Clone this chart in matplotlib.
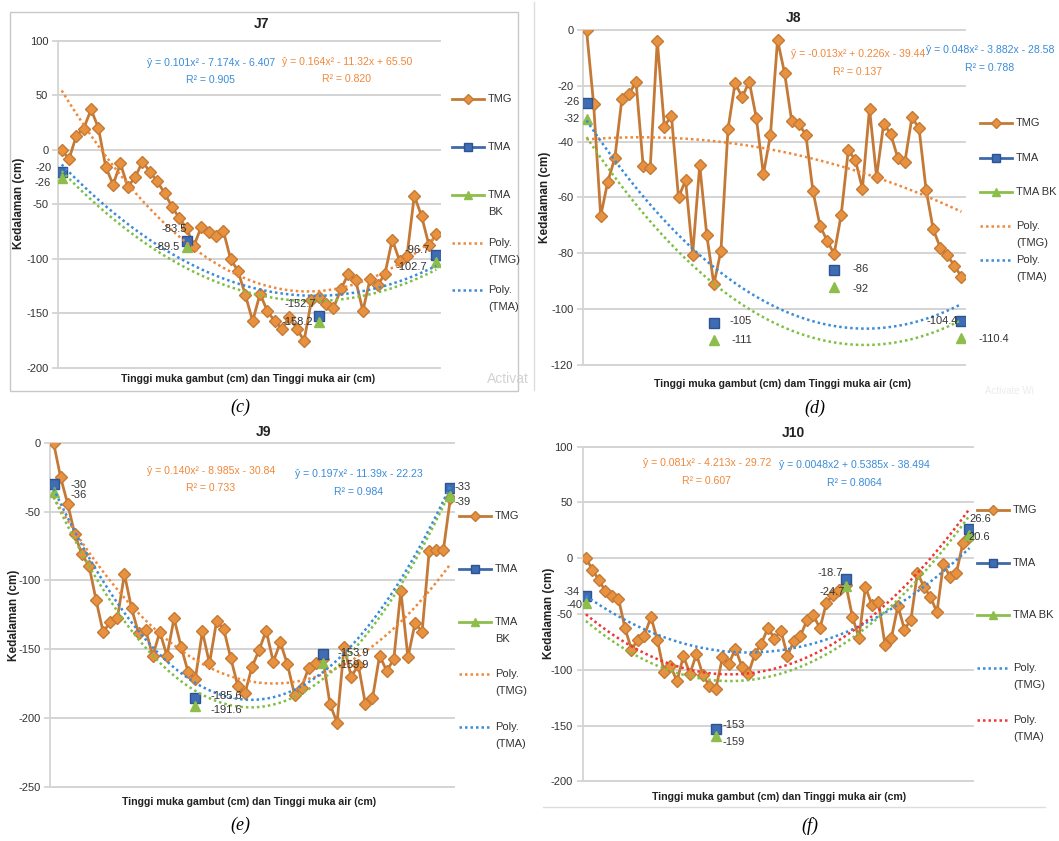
import numpy as np
import matplotlib
matplotlib.use("Agg")
import matplotlib.pyplot as plt
from matplotlib.lines import Line2D
from matplotlib.patches import Rectangle

plt.rcParams['font.family'] = ['Liberation Sans Narrow', 'Liberation Sans', 'DejaVu Sans']
plt.rcParams['axes.unicode_minus'] = False

# ---------------- data ----------------
# J7
j7_tmg = [0, -8.5, 13, 19.5, 37, 20, -15.6, -32, -12.5, -34, -25, -11, -20, -29,
          -39.5, -52, -62.5, -72, -88, -70.6, -75.5, -79, -74, -100.3, -111, -133,
          -157, -132, -147.8, -157, -164, -153, -164, -175, -138, -135, -141.6, -145,
          -128, -114, -119, -147.7, -118, -124, -114, -82.3, -101.8, -97.6, -42, -61,
          -87.5, -77]
j7_tma_x = [1, 18, 36, 52]
j7_tma = [-20, -83.5, -152.7, -96.7]
j7_tmabk = [-26, -89.5, -158.2, -102.7]
j7_fit_tmg = [0.164, -11.32, 65.50]
j7_fit_tma = [0.101, -7.174, -6.407]
j7_yticks = [100, 50, 0, -50, -100, -150, -200]

# J8
j8_tmg = [0, -26.5, -66.7, -54.4, -45.9, -24.7, -23, -18.6, -48.6, -49.6, -3.8, -34.6,
          -30.7, -60, -53.9, -80.5, -48.5, -73.6, -91.2, -79.1, -35.5, -19, -24.1,
          -18.5, -31.5, -51.7, -37.6, -3.6, -15.5, -32.6, -33.7, -37.5, -57.7, -70.2,
          -75.5, -80.3, -66.2, -43.1, -46.6, -56.9, -28.2, -52.6, -33.6, -37.3, -45.9,
          -47.3, -31.3, -35.2, -57.3, -71.4, -78, -80.8, -84.5, -88.5]
j8_tma_x = [1, 19, 36, 54]
j8_tma = [-26, -105, -86, -104.4]
j8_tmabk = [-32, -111, -92, -110.4]
j8_fit_tmg = [-0.013, 0.226, -39.44]
j8_fit_tma = [0.048, -3.882, -28.58]
j8_yticks = [0, -20, -40, -60, -80, -100, -120]

# J9
j9_tmg = [0, -25.2, -44.6, -66.6, -81.2, -89.4, -114.3, -137.8, -130.3, -127.7, -95.5,
          -120.2, -138.6, -136.1, -155, -137.4, -155, -127.7, -148.3, -166.9, -171.8,
          -137.1, -160.4, -129.8, -135.2, -156.5, -176.8, -182.2, -163, -150.7, -136.6,
          -159.2, -145.2, -161.1, -183.1, -178, -163.5, -160.4, -157, -189.9, -203.5,
          -148.3, -170.1, -161.6, -189.9, -185.8, -154.8, -165.7, -157.5, -107.6, -156,
          -131.3, -137.4, -78.7, -78, -78, -40]
j9_tma_x = [1, 21, 39, 57]
j9_tma = [-30, -185.6, -153.9, -33]
j9_tmabk = [-36, -191.6, -159.9, -39]
j9_fit_tmg = [0.140, -8.985, -30.84]
j9_fit_tma = [0.197, -11.39, -22.23]
j9_yticks = [0, -50, -100, -150, -200, -250]

# J10
j10_tmg = [0, -10.2, -19.7, -29.6, -33.5, -36.2, -62.4, -81.9, -72.9, -69.3, -52.6,
           -73.5, -101.9, -96.5, -110.2, -87.8, -103.4, -86, -104.9, -114.4, -116.8,
           -89, -94.4, -81, -97.4, -103.4, -85.5, -76.5, -62.4, -72, -65.1, -87.5,
           -74.1, -69.6, -55.6, -51.1, -63, -39.7, -33.2, -28.7, -24, -52.6, -71.4,
           -25.7, -42.1, -39.1, -77.4, -71.1, -42.7, -63.9, -55, -13.1, -25.7, -34.7,
           -48.4, -4.8, -16.7, -12.8, 13.7, 19]
j10_tma_x = [1, 21, 41, 60]
j10_tma = [-34, -153, -18.7, 26.6]
j10_tmabk = [-40, -159, -24.7, 20.6]
j10_fit_tmg = [0.081, -4.213, -29.72]
j10_yticks = [100, 50, 0, -50, -100, -150, -200]

# ---------------- styling ----------------
W, H = 1059, 841
GRID = '#d4d4d4'
TXT = '#333333'
TMG_LINE = '#C47A36'
TMG_FACE = '#E8923F'
TMA_FACE = '#3E6DB3'
TMA_EDGE = '#2D5390'
TMA_LEG = '#3F6AA8'
BK_COL = '#8DBE4C'
FIT_ORANGE = '#F0883A'
FIT_BLUE = '#3A8CD8'
FIT_GREEN = '#7FBF45'
FIT_RED = '#F03535'
DOT = (0, (1.0, 1.2))
EQ_FS = 7.6
LAB_FS = 8
LEG_FS = 8

fig = plt.figure(figsize=(W / 100, H / 100), dpi=100)
fig.patch.set_facecolor('white')


def fx(x):
    return x / W


def fy(y):
    return 1 - y / H


def ftext(x, y, s, **kw):
    fig.text(fx(x), fy(y), s, **kw)


def draw_panel(box, tmg, tma_x, tma, tmabk, ylim, yticks, fit_tmg, fit_tma,
               tmg_fit_col, tma_fit_col, tma_offs, bk_offs):
    l, t, r, b = box
    ax = fig.add_axes([fx(l), fy(b), (r - l) / W, (b - t) / H])
    n = len(tmg)
    x = np.arange(1, n + 1)
    ax.set_xlim(0.5, n + 0.5)
    ax.set_ylim(*ylim)
    ax.set_yticks(yticks)
    ax.set_xticks([])
    for s in ['top', 'right', 'bottom']:
        ax.spines[s].set_visible(False)
    ax.spines['left'].set_color(GRID)
    ax.spines['left'].set_linewidth(1.3)
    ax.tick_params(axis='y', length=4, width=1.3, color=GRID, labelsize=8,
                   labelcolor=TXT, pad=3)
    ax.yaxis.grid(True, color=GRID, lw=1.4)
    ax.set_axisbelow(True)
    for gl in ax.get_ygridlines():
        gl.set_clip_on(False)
    ax.patch.set_alpha(0)

    # measured series
    ax.plot(x, tmg, color=TMG_LINE, lw=2.0, marker='D', ms=6.5,
            mfc=TMG_FACE, mec=TMG_LINE, mew=1.0, zorder=3)
    ax.plot(tma_x, tma, ls='none', marker='s', ms=7.5, mfc=TMA_FACE,
            mec=TMA_EDGE, mew=1.0, zorder=4)
    ax.plot(tma_x, tmabk, ls='none', marker='^', ms=7, mfc=BK_COL,
            mec=BK_COL, zorder=5)

    # second-order polynomial trend lines
    xs = np.linspace(1, n, 300)
    if fit_tma is None:
        fit_tma = np.polyfit(tma_x, tma, 2)
    fit_bk = np.polyfit(tma_x, tmabk, 2)
    ax.plot(xs, np.polyval(fit_tmg, xs), color=tmg_fit_col, lw=1.8, ls=DOT, zorder=6)
    ax.plot(xs, np.polyval(fit_tma, xs), color=tma_fit_col, lw=1.8, ls=DOT, zorder=6)
    ax.plot(xs, np.polyval(fit_bk, xs), color=FIT_GREEN, lw=1.8, ls=DOT, zorder=6)

    # value labels on the water-level points (offsets in pixels)
    for vals, offs in ((tma, tma_offs), (tmabk, bk_offs)):
        for xi, v, (dx, dy, ha) in zip(tma_x, vals, offs):
            ax.annotate(f"{v:g}", (xi, v), xytext=(dx * 0.72, dy * 0.72),
                        textcoords='offset points', ha=ha, va='center',
                        fontsize=LAB_FS, color=TXT, zorder=8, annotation_clip=False)
    return ax


def draw_legend(x0, x1, xt, ys, entries):
    gap = 17
    for y, (kind, col, label) in zip(ys, entries):
        if kind == 'fit':
            fig.add_artist(Line2D([fx(x0), fx(x1)], [fy(y), fy(y)], color=col,
                                  lw=1.8, ls=DOT, transform=fig.transFigure))
        else:
            fig.add_artist(Line2D([fx(x0), fx(x1)], [fy(y), fy(y)], color=col,
                                  lw=2.0, transform=fig.transFigure))
            xm = (x0 + x1) / 2
            if kind == 'tmg':
                mk = dict(marker='D', ms=5.5, mfc=TMG_FACE, mec=TMG_LINE)
            elif kind == 'tma':
                mk = dict(marker='s', ms=6, mfc=TMA_FACE, mec=TMA_EDGE)
            else:
                mk = dict(marker='^', ms=5.5, mfc=BK_COL, mec=BK_COL)
            fig.add_artist(Line2D([fx(xm)], [fy(y)], ls='none',
                                  transform=fig.transFigure, **mk))
        for k, line in enumerate(label.split('\n')):
            ftext(xt, y + k * gap, line, fontsize=LEG_FS, color=TXT, va='center', ha='left')


# ---------------- J7 (c) ----------------
fig.add_artist(Rectangle((fx(10), fy(391)), (518 - 10) / W, (391 - 12) / H,
                         transform=fig.transFigure, fill=False, ec='#c8c8c8', lw=1.0))
draw_panel((58, 40.7, 440, 368), j7_tmg, j7_tma_x, j7_tma, j7_tmabk, (-200, 100),
           j7_yticks, j7_fit_tmg, j7_fit_tma, FIT_ORANGE, FIT_BLUE,
           [(-10, 3.5, 'right'), (0, 12, 'right'), (-3, 12.5, 'right'), (-6.5, 5, 'right')],
           [(-11, -5, 'right'), (-7, 0, 'right'), (-6, 0, 'right'), (-9.5, -5, 'right')])
ftext(262, 24, 'J7', fontsize=10, fontweight='bold', ha='center', va='center', color='#222222')
ftext(19, 203, 'Kedalaman (cm)', fontsize=8.5, fontweight='bold', rotation=90,
      ha='center', va='center', color='#222222')
ftext(248, 379, 'Tinggi muka gambut (cm) dan Tinggi muka air (cm)', fontsize=7.6,
      fontweight='bold', ha='center', va='center', color='#222222')
ftext(211, 63, 'ŷ = 0.101x² - 7.174x - 6.407', fontsize=EQ_FS, color=FIT_BLUE, ha='center', va='center')
ftext(211, 80, 'R² = 0.905', fontsize=EQ_FS, color=FIT_BLUE, ha='center', va='center')
ftext(347, 62, 'ŷ = 0.164x² - 11.32x + 65.50', fontsize=EQ_FS, color=FIT_ORANGE, ha='center', va='center')
ftext(347, 79, 'R² = 0.820', fontsize=EQ_FS, color=FIT_ORANGE, ha='center', va='center')
draw_legend(452, 484, 488, [99, 147, 195, 243, 290],
            [('tmg', TMG_LINE, 'TMG'), ('tma', TMA_LEG, 'TMA'), ('bk', BK_COL, 'TMA\nBK'),
             ('fit', FIT_ORANGE, 'Poly.\n(TMG)'), ('fit', FIT_BLUE, 'Poly.\n(TMA)')])
ftext(487, 379, 'Activat', fontsize=10, color='#d2d2d2', ha='left', va='center')
ftext(240, 407, '(c)', fontsize=13, style='italic', family='Liberation Serif',
      ha='center', va='center')

# ---------------- J8 (d) ----------------
fig.add_artist(Line2D([fx(534), fx(534)], [fy(2), fy(390)], color='#dddddd', lw=1.0,
                      transform=fig.transFigure))
draw_panel((583, 30, 965, 364.7), j8_tmg, j8_tma_x, j8_tma, j8_tmabk, (-120, 0),
           j8_yticks, j8_fit_tmg, j8_fit_tma, FIT_ORANGE, FIT_BLUE,
           [(-6.5, 0.5, 'right'), (16, 2, 'left'), (18, 1, 'left'), (-4, 0, 'right')],
           [(-6.5, 0, 'right'), (18, 0, 'left'), (18, -2.5, 'left'), (17, -1, 'left')])
ftext(794, 18, 'J8', fontsize=10, fontweight='bold', ha='center', va='center', color='#222222')
ftext(545, 197, 'Kedalaman (cm)', fontsize=8.5, fontweight='bold', rotation=90,
      ha='center', va='center', color='#222222')
ftext(782, 384, 'Tinggi muka gambut (cm) dam Tinggi muka air (cm)', fontsize=7.6,
      fontweight='bold', ha='center', va='center', color='#222222')
ftext(858, 54, 'ŷ = -0.013x² + 0.226x - 39.44', fontsize=EQ_FS, color=FIT_ORANGE, ha='center', va='center')
ftext(858, 72, 'R² = 0.137', fontsize=EQ_FS, color=FIT_ORANGE, ha='center', va='center')
ftext(990, 50, 'ŷ = 0.048x² - 3.882x - 28.58', fontsize=EQ_FS, color=FIT_BLUE, ha='center', va='center')
ftext(990, 68, 'R² = 0.788', fontsize=EQ_FS, color=FIT_BLUE, ha='center', va='center')
draw_legend(980, 1012, 1016, [123, 158, 192, 226, 260],
            [('tmg', TMG_LINE, 'TMG'), ('tma', TMA_LEG, 'TMA'), ('bk', BK_COL, 'TMA BK'),
             ('fit', FIT_ORANGE, 'Poly.\n(TMG)'), ('fit', FIT_BLUE, 'Poly.\n(TMA)')])
ftext(985, 391, 'Activate Wi', fontsize=7, color='#ececec', ha='left', va='center')
ftext(815, 408, '(d)', fontsize=13, style='italic', family='Liberation Serif',
      ha='center', va='center')

# ---------------- J9 (e) ----------------
draw_panel((50, 442.7, 454, 786.7), j9_tmg, j9_tma_x, j9_tma, j9_tmabk, (-250, 0),
           j9_yticks, j9_fit_tmg, j9_fit_tma, FIT_ORANGE, FIT_BLUE,
           [(16.5, -1, 'left'), (15.7, 2, 'left'), (15, 1.5, 'left'), (4.4, 1, 'left')],
           [(16.5, -3, 'left'), (15, -3.6, 'left'), (15, -2.3, 'left'), (4.4, -5.6, 'left')])
ftext(264, 432, 'J9', fontsize=10, fontweight='bold', ha='center', va='center', color='#222222')
ftext(14, 615, 'Kedalaman (cm)', fontsize=8.5, fontweight='bold', rotation=90,
      ha='center', va='center', color='#222222')
ftext(249, 802, 'Tinggi muka gambut (cm) dan Tinggi muka air (cm)', fontsize=7.6,
      fontweight='bold', ha='center', va='center', color='#222222')
ftext(211, 471, 'ŷ = 0.140x² - 8.985x - 30.84', fontsize=EQ_FS, color=FIT_ORANGE, ha='center', va='center')
ftext(211, 488, 'R² = 0.733', fontsize=EQ_FS, color=FIT_ORANGE, ha='center', va='center')
ftext(359, 474, 'ŷ = 0.197x² - 11.39x - 22.23', fontsize=EQ_FS, color=FIT_BLUE, ha='center', va='center')
ftext(359, 492, 'R² = 0.984', fontsize=EQ_FS, color=FIT_BLUE, ha='center', va='center')
draw_legend(459, 491, 495, [516, 569, 622, 674, 727],
            [('tmg', TMG_LINE, 'TMG'), ('tma', TMA_LEG, 'TMA'), ('bk', BK_COL, 'TMA\nBK'),
             ('fit', FIT_ORANGE, 'Poly.\n(TMG)'), ('fit', FIT_BLUE, 'Poly.\n(TMA)')])
ftext(240, 825, '(e)', fontsize=13, style='italic', family='Liberation Serif',
      ha='center', va='center')

# ---------------- J10 (f) ----------------
fig.add_artist(Line2D([fx(543), fx(1045)], [fy(807), fy(807)], color='#dddddd', lw=1.0,
                      transform=fig.transFigure))
draw_panel((582.7, 446.7, 972.7, 781.3), j10_tmg, j10_tma_x, j10_tma, j10_tmabk,
           (-200, 100), j10_yticks, j10_fit_tmg, None, FIT_BLUE, FIT_RED,
           [(-6, 4, 'right'), (7, 4, 'left'), (-3, 6, 'right'), (0, 9.5, 'left')],
           [(-3, -2, 'right'), (7, -6.5, 'left'), (-1, -6, 'right'), (-1.5, -2, 'left')])
ftext(793, 433, 'J10', fontsize=10, fontweight='bold', ha='center', va='center', color='#222222')
ftext(549, 613, 'Kedalaman (cm)', fontsize=8.5, fontweight='bold', rotation=90,
      ha='center', va='center', color='#222222')
ftext(779, 797, 'Tinggi muka gambut (cm) dan Tinggi muka air (cm)', fontsize=7.6,
      fontweight='bold', ha='center', va='center', color='#222222')
ftext(707, 463, 'ŷ = 0.081x² - 4.213x - 29.72', fontsize=EQ_FS, color=FIT_ORANGE, ha='center', va='center')
ftext(707, 481, 'R² = 0.607', fontsize=EQ_FS, color=FIT_ORANGE, ha='center', va='center')
ftext(854, 465, 'ŷ = 0.0048x2 + 0.5385x - 38.494', fontsize=EQ_FS, color=FIT_BLUE, ha='center', va='center')
ftext(854, 483, 'R² = 0.8064', fontsize=EQ_FS, color=FIT_BLUE, ha='center', va='center')
draw_legend(977, 1009, 1013, [510, 563, 615, 668, 720],
            [('tmg', TMG_LINE, 'TMG'), ('tma', TMA_LEG, 'TMA'), ('bk', BK_COL, 'TMA BK'),
             ('fit', FIT_BLUE, 'Poly.\n(TMG)'), ('fit', FIT_RED, 'Poly.\n(TMA)')])
ftext(810, 826, '(f)', fontsize=13, style='italic', family='Liberation Serif',
      ha='center', va='center')

fig.savefig('out.png', dpi=100, facecolor='white')
